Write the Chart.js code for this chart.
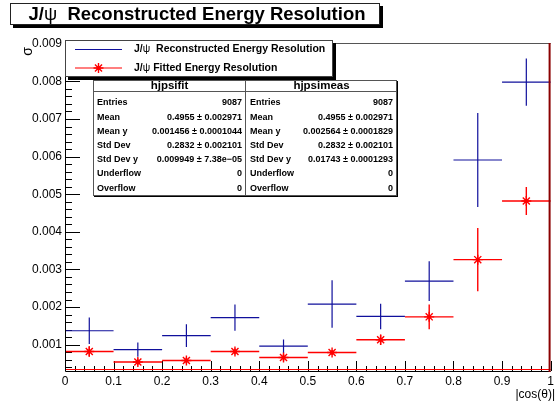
<!DOCTYPE html>
<html>
<head>
<meta charset="utf-8">
<script src="https://cdn.jsdelivr.net/npm/chart.js@4.4.0/dist/chart.umd.min.js"></script>
<style>
  html, body { margin: 0; padding: 0; background: #fff; }
  #wrap { width: 557px; height: 406px; position: relative; }
</style>
</head>
<body>
<div id="wrap"><canvas id="resChart"></canvas></div>
<script>
// histogram bins in |cos(theta)|
const binCenters = [0.05, 0.15, 0.25, 0.35, 0.45, 0.55, 0.65, 0.75, 0.85, 0.95];
const binWidth = 0.1;

// J/psi reconstructed energy resolution (hjpsimeas)
const recoValues = [0.00137, 0.000867, 0.00124, 0.00172, 0.00096, 0.00208, 0.00175, 0.00269, 0.00591, 0.00798];
const recoErrors = [0.00035, 0.00019, 0.00030, 0.00035, 0.00018, 0.00063, 0.00034, 0.00053, 0.00125, 0.00063];

// J/psi fitted energy resolution (hjpsifit)
const fitValues = [0.00082, 0.00054, 0.00058, 0.00082, 0.00066, 0.00079, 0.00113, 0.00174, 0.00326, 0.00482];
const fitErrors = [0.00014, 0.00009, 0.00008, 0.00008, 0.00010, 0.00006, 0.00014, 0.00033, 0.00084, 0.00037];

const xTicks = [0, 0.1, 0.2, 0.3, 0.4, 0.5, 0.6, 0.7, 0.8, 0.9, 1];
const xTickLabels = ['0', '0.1', '0.2', '0.3', '0.4', '0.5', '0.6', '0.7', '0.8', '0.9', '1'];
const yTicks = [0.001, 0.002, 0.003, 0.004, 0.005, 0.006, 0.007, 0.008, 0.009];
const yTickLabels = ['0.001', '0.002', '0.003', '0.004', '0.005', '0.006', '0.007', '0.008', '0.009'];

// stat boxes
const statLabels = ['Entries', 'Mean', 'Mean y', 'Std Dev', 'Std Dev y', 'Underflow', 'Overflow'];
const fitStats = ['9087', '0.4955 \u00b1 0.002971', '0.001456 \u00b1 0.0001044', '0.2832 \u00b1 0.002101', '0.009949 \u00b1 7.38e\u221205', '0', '0'];
const measStats = ['9087', '0.4955 \u00b1 0.002971', '0.002564 \u00b1 0.0001829', '0.2832 \u00b1 0.002101', '0.01743 \u00b1 0.0001293', '0', '0'];

const BLUE = '#10109c';
const RED = '#ff0000';
const FONT = '"Liberation Sans", Arial, Helvetica, sans-serif';

function drawRich(ctx, parts, x, y, align) {
  let total = 0;
  parts.forEach(p => { ctx.font = p.f; total += ctx.measureText(p.t).width; });
  let cx = align === 'center' ? x - total / 2 : x;
  ctx.textAlign = 'left';
  parts.forEach(p => {
    ctx.font = p.f;
    ctx.fillText(p.t, cx, y);
    cx += ctx.measureText(p.t).width;
  });
}

function drawStar(ctx, cx, cy, r) {
  ctx.beginPath();
  for (let k = 0; k < 4; k++) {
    const ang = k * Math.PI / 4;
    ctx.moveTo(cx - r * Math.cos(ang), cy - r * Math.sin(ang));
    ctx.lineTo(cx + r * Math.cos(ang), cy + r * Math.sin(ang));
  }
  ctx.stroke();
}

function shadowBox(ctx, x1, y1, x2, y2, shadow, border) {
  ctx.fillStyle = '#000';
  ctx.fillRect(x1 + shadow, y1 + shadow, x2 - x1, y2 - y1);
  ctx.fillStyle = '#fff';
  ctx.fillRect(x1, y1, x2 - x1, y2 - y1);
  ctx.strokeStyle = border;
  ctx.lineWidth = 1;
  ctx.strokeRect(x1 + 0.5, y1 + 0.5, x2 - x1 - 1, y2 - y1 - 1);
}

const rootStyle = {
  id: 'rootStyle',
  beforeDatasetsDraw(chart) {
    const { ctx, chartArea: a, scales: { x, y } } = chart;
    ctx.save();
    // ticks, ROOT style (inside the frame)
    ctx.strokeStyle = '#000';
    ctx.lineWidth = 1;
    ctx.beginPath();
    for (let i = 0; i <= 50; i++) {
      const px = Math.round(x.getPixelForValue(i * 0.02)) + 0.5;
      const len = i % 5 === 0 ? 10 : 5;
      ctx.moveTo(px, a.bottom);
      ctx.lineTo(px, a.bottom - len);
    }
    const iMin = Math.ceil(y.min / 0.0002 - 1e-6);
    const iMax = Math.floor(y.max / 0.0002 + 1e-6);
    for (let i = iMin; i <= iMax; i++) {
      const py = Math.round(y.getPixelForValue(i * 0.0002)) + 0.5;
      const len = i % 5 === 0 ? 15 : 7;
      ctx.moveTo(a.left, py);
      ctx.lineTo(a.left + len, py);
    }
    ctx.stroke();

    // error bars
    const bars = (vals, errs, color, lw) => {
      ctx.strokeStyle = color;
      ctx.lineWidth = lw;
      ctx.beginPath();
      vals.forEach((v, i) => {
        const c = binCenters[i];
        const px = x.getPixelForValue(c);
        const py = y.getPixelForValue(v);
        ctx.moveTo(x.getPixelForValue(c - binWidth / 2), py);
        ctx.lineTo(x.getPixelForValue(c + binWidth / 2), py);
        ctx.moveTo(px, y.getPixelForValue(v + errs[i]));
        ctx.lineTo(px, Math.min(a.bottom, y.getPixelForValue(v - errs[i])));
      });
      ctx.stroke();
    };
    bars(recoValues, recoErrors, BLUE, 1.2);
    bars(fitValues, fitErrors, RED, 1.4);
    ctx.restore();
  },
  afterDatasetsDraw(chart) {
    const { ctx, scales: { x, y } } = chart;
    ctx.save();
    ctx.fillStyle = RED;
    fitValues.forEach((v, i) => {
      ctx.beginPath();
      ctx.arc(x.getPixelForValue(binCenters[i]), y.getPixelForValue(v), 2, 0, Math.PI * 2);
      ctx.fill();
    });
    ctx.restore();
  },
  afterDraw(chart) {
    const { ctx, chartArea: a } = chart;
    ctx.save();
    // frame
    ctx.lineWidth = 1;
    ctx.strokeStyle = RED;
    ctx.beginPath();
    ctx.moveTo(a.left, a.bottom - 1.5);
    ctx.lineTo(a.right, a.bottom - 1.5);
    ctx.stroke();
    ctx.strokeStyle = '#000';
    ctx.beginPath();
    ctx.moveTo(a.left + 0.5, a.top + 0.5);
    ctx.lineTo(a.left + 0.5, a.bottom + 0.5);
    ctx.lineTo(a.right, a.bottom + 0.5);
    ctx.stroke();
    ctx.strokeStyle = '#555';
    ctx.beginPath();
    ctx.moveTo(a.left, a.top + 0.5);
    ctx.lineTo(a.right, a.top + 0.5);
    ctx.stroke();
    ctx.strokeStyle = '#8b0000';
    ctx.lineWidth = 2;
    ctx.beginPath();
    ctx.moveTo(a.right - 1, a.top);
    ctx.lineTo(a.right - 1, a.bottom + 1);
    ctx.stroke();

    // axis titles
    ctx.fillStyle = '#000';
    ctx.font = '12px ' + FONT;
    ctx.textAlign = 'right';
    ctx.textBaseline = 'middle';
    ctx.fillText('|cos(\u03b8)|', 555, 395);
    ctx.save();
    ctx.translate(31.5, 51.5);
    ctx.rotate(-Math.PI / 2);
    ctx.font = '14px ' + FONT;
    ctx.textAlign = 'center';
    ctx.textBaseline = 'alphabetic';
    ctx.fillText('\u03c3', 0, 0);
    ctx.restore();

    // legend
    shadowBox(ctx, 65, 40, 333, 77, 3, '#444');
    ctx.lineWidth = 1.2;
    ctx.strokeStyle = BLUE;
    ctx.beginPath();
    ctx.moveTo(75, 49.5); ctx.lineTo(122, 49.5);
    ctx.stroke();
    ctx.strokeStyle = RED;
    ctx.beginPath();
    ctx.moveTo(75, 68); ctx.lineTo(122, 68);
    ctx.stroke();
    ctx.lineWidth = 1.4;
    drawStar(ctx, 98.5, 68, 5);
    ctx.fillStyle = RED;
    ctx.beginPath(); ctx.arc(98.5, 68, 2, 0, Math.PI * 2); ctx.fill();
    ctx.fillStyle = '#000';
    ctx.textBaseline = 'middle';
    drawRich(ctx, [
      { t: 'J/', f: 'bold 10.5px ' + FONT },
      { t: '\u03c8', f: '10.5px ' + FONT },
      { t: '  Reconstructed Energy Resolution', f: 'bold 10.5px ' + FONT }
    ], 134, 49.5, 'left');
    drawRich(ctx, [
      { t: 'J/', f: 'bold 10.5px ' + FONT },
      { t: '\u03c8', f: '10.5px ' + FONT },
      { t: ' Fitted Energy Resolution', f: 'bold 10.5px ' + FONT }
    ], 134, 68, 'left');

    // stat boxes
    shadowBox(ctx, 93, 80, 397, 196, 1, '#555');
    ctx.strokeStyle = '#555';
    ctx.lineWidth = 1;
    ctx.beginPath();
    ctx.moveTo(93, 91.5); ctx.lineTo(397, 91.5);
    ctx.moveTo(245.5, 80); ctx.lineTo(245.5, 196);
    ctx.stroke();
    const boxes = [
      { name: 'hjpsifit', x1: 93, x2: 246, vals: fitStats },
      { name: 'hjpsimeas', x1: 246, x2: 397, vals: measStats }
    ];
    boxes.forEach(b => {
      ctx.fillStyle = '#000';
      ctx.font = 'bold 11.5px ' + FONT;
      ctx.textAlign = 'center';
      ctx.fillText(b.name, (b.x1 + b.x2) / 2, 86);
      statLabels.forEach((lab, i) => {
        const yy = 103 + i * 14.2;
        ctx.font = 'bold 9px ' + FONT;
        ctx.textAlign = 'left';
        ctx.fillText(lab, b.x1 + 4, yy);
        ctx.textAlign = 'right';
        ctx.fillText(b.vals[i], b.x2 - 4, yy);
      });
    });

    // title
    shadowBox(ctx, 10, 3, 380, 25, 3, '#222');
    ctx.fillStyle = '#000';
    ctx.textBaseline = 'middle';
    drawRich(ctx, [
      { t: 'J/', f: 'bold 18.5px ' + FONT },
      { t: '\u03c8', f: '18.5px ' + FONT },
      { t: '  Reconstructed Energy Resolution', f: 'bold 18.5px ' + FONT }
    ], 197, 14.5, 'center');
    ctx.restore();
  }
};

const ctx = document.getElementById('resChart').getContext('2d');
new Chart(ctx, {
  type: 'scatter',
  data: {
    datasets: [
      {
        label: 'J/\u03c8  Reconstructed Energy Resolution',
        data: binCenters.map((c, i) => ({ x: c, y: recoValues[i] })),
        pointRadius: 0,
        borderColor: BLUE,
        backgroundColor: BLUE
      },
      {
        label: 'J/\u03c8 Fitted Energy Resolution',
        data: binCenters.map((c, i) => ({ x: c, y: fitValues[i] })),
        pointStyle: 'star',
        pointRadius: 5,
        borderWidth: 1.4,
        borderColor: RED,
        backgroundColor: RED
      }
    ]
  },
  options: {
    responsive: true,
    maintainAspectRatio: false,
    animation: false,
    layout: { padding: { top: 43, right: 2, left: 0, bottom: 0 } },
    plugins: {
      legend: { display: false },
      tooltip: { enabled: false },
      title: { display: false }
    },
    scales: {
      x: {
        type: 'linear',
        min: 0,
        max: 1,
        grid: { display: false, drawTicks: false },
        border: { display: false },
        afterFit: s => { s.height = 35; },
        afterBuildTicks: s => { s.ticks = xTicks.map(v => ({ value: v })); },
        ticks: {
          padding: 3,
          maxRotation: 0,
          autoSkip: false,
          color: '#000',
          font: { family: 'Liberation Sans', size: 12 },
          callback: (v, i) => xTickLabels[i]
        }
      },
      y: {
        type: 'linear',
        min: 0.0003,
        max: 0.00902,
        grid: { display: false, drawTicks: false },
        border: { display: false },
        afterFit: s => { s.width = 65; },
        afterBuildTicks: s => { s.ticks = yTicks.map(v => ({ value: v })); },
        ticks: {
          padding: 3,
          autoSkip: false,
          color: '#000',
          font: { family: 'Liberation Sans', size: 12 },
          callback: (v, i) => yTickLabels[i]
        }
      }
    }
  },
  plugins: [rootStyle]
});
</script>
</body>
</html>
